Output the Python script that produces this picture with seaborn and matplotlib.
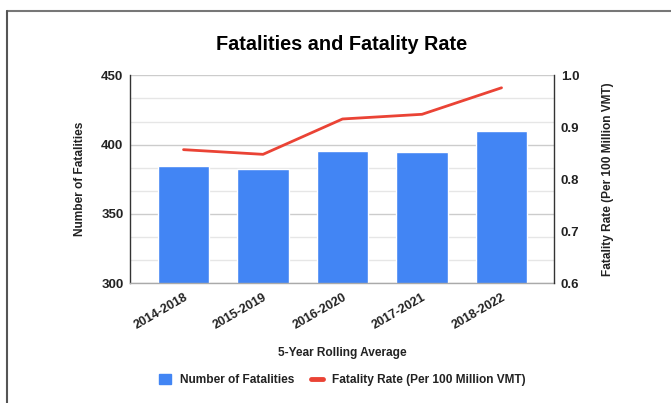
import matplotlib
matplotlib.use("Agg")
import matplotlib.pyplot as plt
from matplotlib.lines import Line2D
from matplotlib.patches import Patch
import numpy as np
import pandas as pd
import seaborn as sns

# Data
periods = ["2014-2018", "2015-2019", "2016-2020", "2017-2021", "2018-2022"]
fatalities = [384.4, 382.4, 395.4, 394.6, 409.8]
fatality_rate = [0.857, 0.848, 0.916, 0.925, 0.976]

left_ticks = [300, 350, 400, 450]
right_ticks = [0.6, 0.7, 0.8, 0.9, 1.0]

BLUE = "#4285F4"
RED = "#EA4335"
TXT = "#222222"

sns.set_theme(style="white")
plt.rcParams["font.family"] = ["Liberation Sans", "DejaVu Sans"]
plt.rcParams["font.weight"] = "bold"

df = pd.DataFrame({"period": periods, "fatalities": fatalities, "rate": fatality_rate})

W, H = 671, 403
fig = plt.figure(figsize=(W / 100, H / 100), dpi=100)
ax = fig.add_axes([129.7 / W, 1 - 283.3 / H, (554 - 129.7) / W, (283.3 - 75.3) / H])

# Gridlines: major at labelled values, two minor lines between each
for v in np.linspace(300, 450, 10):
    major = any(abs(v - t) < 1e-6 for t in left_ticks)
    ax.axhline(v, color="#cccccc" if major else "#e6e6e6", lw=1.0, zorder=0)

sns.barplot(data=df, x="period", y="fatalities", color=BLUE, width=0.65,
            saturation=1, ax=ax, zorder=2)
ax.set_ylim(300, 450)
ax.set_xlim(-0.677, 4.66)
ax.set_yticks(left_ticks)
ax.set_yticklabels([str(t) for t in left_ticks], fontsize=9.5, fontweight="bold", color=TXT)
ax.tick_params(axis="y", length=0, pad=4.5)
ax.tick_params(axis="x", length=0, pad=6)
for lbl in ax.get_xticklabels():
    lbl.set_rotation(30)
    lbl.set_ha("right")
    lbl.set_rotation_mode("anchor")
    lbl.set_fontsize(9)
    lbl.set_fontweight("bold")
    lbl.set_color(TXT)
ax.set_xlabel("5-Year Rolling Average", fontsize=8.6, fontweight="bold", color=TXT, labelpad=11)
ax.set_ylabel("Number of Fatalities", fontsize=8.6, fontweight="bold", color=TXT, labelpad=11)

ax2 = ax.twinx()
sns.lineplot(data=df, x="period", y="rate", color=RED, lw=2, ax=ax2, sort=False, zorder=3)
ax2.set_ylim(0.6, 1.0)
ax2.set_xlim(-0.677, 4.66)
ax2.set_yticks(right_ticks)
ax2.set_yticklabels([f"{t:.1f}" for t in right_ticks], fontsize=9.5, fontweight="bold", color=TXT)
ax2.tick_params(axis="y", length=0, pad=5)
ax2.set_ylabel("Fatality Rate (Per 100 Million VMT)", fontsize=8.6, fontweight="bold",
               color=TXT, labelpad=16.5)

for a in (ax, ax2):
    a.spines["top"].set_visible(False)
    a.spines["left"].set_color("#333333")
    a.spines["right"].set_color("#333333")
    a.spines["bottom"].set_color("#aaaaaa")
    for s in a.spines.values():
        s.set_linewidth(1.0)
ax.spines["right"].set_visible(False)
ax2.spines["left"].set_visible(False)
ax2.spines["bottom"].set_visible(False)

fig.text(342 / W, 1 - 44 / H, "Fatalities and Fatality Rate", ha="center", va="center",
         fontsize=14.3, fontweight="bold", color="#000000")

handles = [Patch(facecolor=BLUE, edgecolor=BLUE),
           Line2D([0], [0], color=RED, lw=3.5)]
fig.legend(handles, ["Number of Fatalities", "Fatality Rate (Per 100 Million VMT)"],
           loc="center", bbox_to_anchor=(342 / W, 1 - 380 / H), ncol=2, frameon=False,
           prop={"size": 8.6, "weight": "bold"}, handlelength=1.0, handleheight=1.0,
           columnspacing=1.4, handletextpad=0.75, labelcolor=TXT)

# Chart frame
fig.add_artist(Line2D([7 / W, 1], [1 - 11 / H, 1 - 11 / H], transform=fig.transFigure,
                      color="#777777", lw=1.5))
fig.add_artist(Line2D([7 / W, 7 / W], [0, 1 - 11 / H], transform=fig.transFigure,
                      color="#555555", lw=1.5))

fig.savefig("out.png", dpi=100)
